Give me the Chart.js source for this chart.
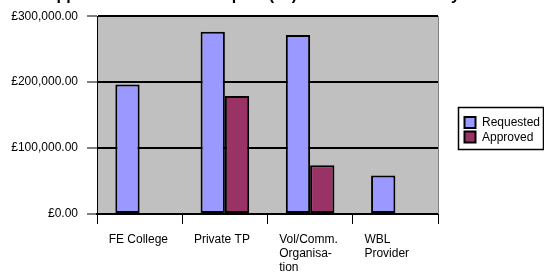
<!DOCTYPE html>
<html>
<head>
<meta charset="utf-8">
<script src="https://cdn.jsdelivr.net/npm/chart.js@4.4.0/dist/chart.umd.min.js"></script>
<style>
  html, body { margin: 0; padding: 0; background: #fff; overflow: hidden; }
  #wrap { position: relative; width: 544px; height: 278px; }
</style>
</head>
<body>
<div id="wrap"><canvas id="chart" width="544" height="278"></canvas></div>
<script>
// title only shows its descenders, the top is cut off in the original
const titleText = 'Applications Received Up To (££) Allocated to Delivery';
const categories = [['FE College'], ['Private TP'], ['Vol/Comm.', 'Organisa-', 'tion'], ['WBL', 'Provider']];
const requested = [196500, 276500, 271500, 58500];
const approved = [1000, 179000, 74000, 1000];
const yTicks = [0, 100000, 200000, 300000];

const FONT = 'Arial, "Liberation Sans", sans-serif';

function money(v) {
  return '£' + v.toLocaleString('en-GB', { minimumFractionDigits: 2, maximumFractionDigits: 2 });
}

const plotBg = {
  id: 'plotBg',
  beforeDraw(chart) {
    const { ctx, chartArea: a } = chart;
    ctx.save();
    ctx.fillStyle = '#fff';
    ctx.fillRect(0, 0, chart.width, chart.height);
    ctx.fillStyle = '#c0c0c0';
    ctx.fillRect(a.left, a.top, a.right - a.left, a.bottom - a.top);
    ctx.restore();
  },
  afterDraw(chart) {
    const { ctx, chartArea: a } = chart;
    ctx.save();
    // right edge of plot
    ctx.strokeStyle = '#808080';
    ctx.lineWidth = 1;
    ctx.beginPath();
    ctx.moveTo(a.right + 0.5, a.top);
    ctx.lineTo(a.right + 0.5, a.bottom);
    ctx.stroke();

    // title (cut off at the top)
    ctx.fillStyle = '#000';
    ctx.font = 'bold 16px ' + FONT;
    ctx.textAlign = 'left';
    ctx.textBaseline = 'alphabetic';
    ctx.fillText(titleText, 45, 0);

    // legend box
    const lx = 458.5, ly = 107.5, lw = 85, lh = 42;
    ctx.fillStyle = '#fff';
    ctx.fillRect(lx, ly, lw, lh);
    ctx.strokeStyle = '#000';
    ctx.lineWidth = 1.5;
    ctx.strokeRect(lx, ly, lw, lh);
    ctx.font = '12px ' + FONT;
    ctx.textBaseline = 'middle';
    chart.data.datasets.forEach((ds, i) => {
      const y = 117 + i * 14.5;
      ctx.fillStyle = ds.backgroundColor;
      ctx.fillRect(464.5, y, 11, 11);
      ctx.lineWidth = 2;
      ctx.strokeStyle = '#000';
      ctx.strokeRect(464.5, y, 11, 11);
      ctx.fillStyle = '#000';
      ctx.fillText(ds.label, 482, y + 6);
    });
    ctx.restore();
  }
};

new Chart(document.getElementById('chart'), {
  type: 'bar',
  data: {
    labels: categories,
    datasets: [
      {
        label: 'Requested',
        data: requested,
        backgroundColor: '#9999ff',
        borderColor: '#000',
        borderWidth: 2,
        borderSkipped: false
      },
      {
        label: 'Approved',
        data: approved,
        backgroundColor: '#993366',
        borderColor: '#000',
        borderWidth: 2,
        borderSkipped: false
      }
    ]
  },
  options: {
    responsive: false,
    animation: false,
    categoryPercentage: 0.57,
    barPercentage: 1,
    layout: { padding: { left: 0, top: 14.5, right: 106, bottom: 0 } },
    plugins: {
      legend: { display: false },
      title: { display: false },
      tooltip: { enabled: false }
    },
    scales: {
      x: {
        grid: { offset: true, drawOnChartArea: false, drawTicks: true, tickLength: 10, tickWidth: 1, tickColor: '#000' },
        border: { display: true, color: '#000', width: 2 },
        ticks: { color: '#000', font: { family: FONT, size: 12, lineHeight: 1.15 }, padding: 9, align: 'start', labelOffset: -31, maxRotation: 0, autoSkip: false },
        afterFit(scale) { scale.height = 64; }
      },
      y: {
        min: 0,
        max: 300000,
        afterBuildTicks(scale) { scale.ticks = yTicks.map(v => ({ value: v })); },
        grid: { color: '#000', lineWidth: 2, tickLength: 10, tickWidth: 1, tickColor: '#000' },
        border: { display: true, color: '#000', width: 1 },
        ticks: { color: '#000', font: { family: FONT, size: 12 }, padding: 9, callback: v => money(v) },
        afterFit(scale) { scale.width = 97; }
      }
    }
  },
  plugins: [plotBg]
});
</script>
</body>
</html>
